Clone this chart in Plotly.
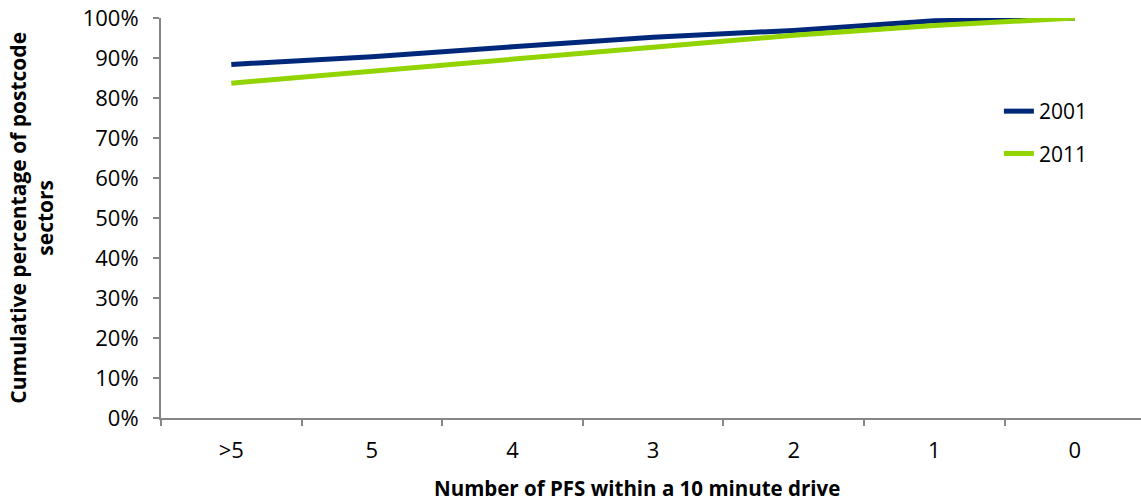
import plotly.graph_objects as go

# Number of petrol filling stations within a 10 minute drive
categories = [">5", "5", "4", "3", "2", "1", "0"]

# Cumulative share of postcode sectors (%)
share_2001 = [88.4, 90.3, 92.8, 95.2, 96.9, 99.3, 100.0]
share_2011 = [83.7, 86.6, 89.5, 92.7, 95.7, 98.1, 100.0]

y_ticks = list(range(0, 101, 10))
y_tick_labels = [f"{v}%" for v in y_ticks]

BLUE = "#00287A"
GREEN = "#92D400"
AXIS = "#868686"
FONT = "Open Sans"

fig = go.Figure()
fig.add_trace(go.Scatter(
    x=categories, y=share_2001, name="2001", mode="lines",
    line=dict(color=BLUE, width=5), legendgroup="a",
))
fig.add_trace(go.Scatter(
    x=categories, y=share_2011, name="2011", mode="lines",
    line=dict(color=GREEN, width=5), legendgroup="b",
))

fig.update_layout(
    width=1141, height=504,
    margin=dict(l=161, r=0, t=18, b=86),
    paper_bgcolor="white", plot_bgcolor="white",
    font=dict(family=FONT, size=21, color="#000000"),
    showlegend=True,
    legend=dict(
        x=0.855, y=0.8175, xanchor="left", yanchor="top",
        font=dict(size=21), tracegroupgap=12,
        bgcolor="rgba(0,0,0,0)",
    ),
    xaxis=dict(
        type="category", range=[-0.5, 6.47],
        showline=True, linecolor=AXIS, linewidth=2,
        ticks="outside", tickson="boundaries", ticklen=6,
        tickcolor=AXIS, tickwidth=2,
        tickfont=dict(size=22), ticklabelstandoff=12,
        showgrid=False, zeroline=False,
    ),
    yaxis=dict(
        range=[0, 100], tickvals=y_ticks, ticktext=y_tick_labels,
        showline=True, linecolor=AXIS, linewidth=2,
        ticks="outside", ticklen=6, tickcolor=AXIS, tickwidth=2,
        tickfont=dict(size=22), ticklabelstandoff=10,
        showgrid=False, zeroline=False,
    ),
)

# Axis titles
fig.add_annotation(
    text="<b>Number of PFS within a 10 minute drive</b>",
    xref="paper", yref="paper", x=0.486, y=-0.176,
    xanchor="center", yanchor="middle",
    showarrow=False, font=dict(size=20.5),
)
fig.add_annotation(
    text="<b>Cumulative percentage of postcode<br>sectors</b>",
    xref="paper", yref="paper", x=-0.133, y=0.5,
    xanchor="center", yanchor="middle", textangle=-90,
    showarrow=False, font=dict(size=21),
)

fig.write_html("out.html")
